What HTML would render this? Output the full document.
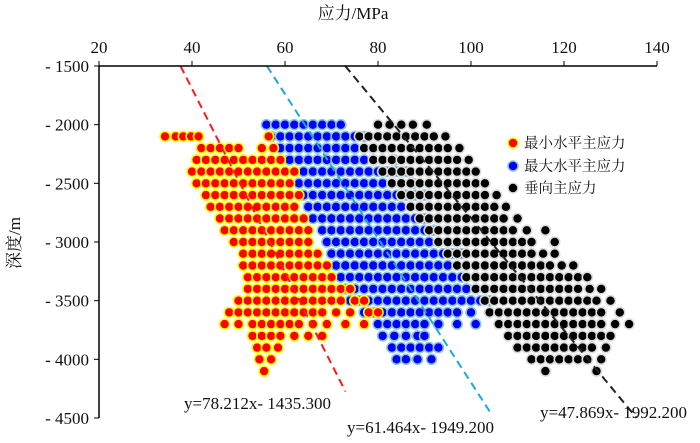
<!DOCTYPE html>
<html><head><meta charset="utf-8"><style>
html,body{margin:0;padding:0;background:#fff;}
svg text{font-family:"Liberation Serif","Noto Serif CJK SC","Noto Sans CJK SC",serif;fill:#111;}
</style></head><body>
<svg id="chart" width="700" height="438" viewBox="0 0 700 438" xmlns="http://www.w3.org/2000/svg">
<g id="points"></g>
<g id="lines"></g>
<g id="axes"></g>
<text x="353" y="19" text-anchor="middle" font-size="17">应力/MPa</text>
<text transform="translate(20,243) rotate(-90)" text-anchor="middle" font-size="17">深度/m</text>
<g>
<g><circle cx="513" cy="143" r="5" fill="#f00" stroke="#ff0" stroke-width="1.5"/><text x="524" y="148" font-size="14.5">最小水平主应力</text></g>
<g><circle cx="513" cy="166" r="5" fill="#00f" stroke="#8cc8d6" stroke-width="1.5"/><text x="524" y="171" font-size="14.5">最大水平主应力</text></g>
<g><circle cx="513" cy="188" r="5" fill="#000" stroke="#ddd" stroke-width="1.5"/><text x="524" y="193" font-size="14.5">垂向主应力</text></g>
</g>
<text x="184" y="409" font-size="17">y=78.212x- 1435.300</text>
<text x="347" y="433" font-size="17">y=61.464x- 1949.200</text>
<text x="540" y="418" font-size="17">y=47.869x- 1992.200</text>
</svg>
<script>
const xTicks = [20,40,60,80,100,120,140];
const yTicks = [-1500,-2000,-2500,-3000,-3500,-4000,-4500];
const redDepth = [-2100,-2200,-2300,-2400,-2500,-2600,-2700,-2800,-2900,-3000,-3100,-3200,-3300,-3400,-3500,-3600,-3700,-3800,-3900,-4000,-4100];
const redX = [
[34.2,36.5,38.1,39.8,41.4,56.5],
[42,44,46,48,50,55,57.5],
[41,43,45,47,49,51,53,55,57,59],
[40,42,44,46,48,50,52,54,56,58,60,62],
[41,43,45,47,49,51,53,55,57,59,61],
[43,45,47,49,51,53,55,57,59,61,63],
[44,46,48,50,52,54,56,58,60,62],
[46,48,50,52,54,56,58,60,62,64],
[47,49,51,53,55,57,59,61,63,65],
[49,51,53,55,57,59,61,63,65],
[51,53,55,57,59,61,63,65,67],
[51,53,55,57,59,61,63,65,67,69],
[52,54,56,58,60,62,64,66,68,70],
[52,54,56,58,60,62,64,66,68,70,72,74],
[50,52,54,56,58,60,62,64,66,68,70,72,75,77],
[48,50,52,54,56,58,60,62,64,66,68,71,74,78,80],
[47,50,53,55,57,59,61,63,66,69,73,77],
[53,55,57,59,62,65,68],
[54,56,58.5],
[54.5,57],
[55.5]];
const blueDepth = [-2000,-2100,-2200,-2300,-2400,-2500,-2600,-2700,-2800,-2900,-3000,-3100,-3200,-3300,-3400,-3500,-3600,-3700,-3800,-3900,-4000];
const blueX = [
[56,58,60,62,64,66,68,70,72],
[57,59,61,63,65,67,69,71,73,75,77],
[59,61,63,65,67,69,71,73,75,77,79,81],
[61,63,65,67,69,71,73,75,77,79,81,83.5],
[62,64,66,68,70,72,74,76,78,80,82,84,86],
[63,65,67,69,71,73,75,77,79,81,83,85,87.5],
[64,66,68,70,72,74,76,78,80,82,84,86,88,90],
[65,67,69,71,73,75,77,79,81,83,85,87,89,91],
[66,68,70,72,74,76,78,80,82,84,86,88,90,93],
[68,70,72,74,76,78,80,82,84,86,88,90,92,95],
[69,71,73,75,77,79,81,83,85,87,89,91,93,95,97],
[70,72,74,76,78,80,82,84,86,88,90,92,94,96,98],
[71,73,75,77,79,81,83,85,87,89,91,93,95,97,99],
[72,74,76,78,80,82,84,86,88,90,92,94,96,98,101],
[73,75,77,79,81,83,85,87,89,91,93,95,97,99,101,103],
[74,76,78,80,82,84,86,88,90,92,94,96,98,100,102,104],
[77,79,81,83,85,87,89,91,93,95,97,100,104],
[80,82,84,86,88,90,93,97,101],
[81,83.5,86,88.5,90],
[83,85,87,89,91,93],
[84,86,88.5,91.5]];
const blackDepth = [-2000,-2100,-2200,-2300,-2400,-2500,-2600,-2700,-2800,-2900,-3000,-3100,-3200,-3300,-3400,-3500,-3600,-3700,-3800,-3900,-4000,-4100];
const blackX = [
[80,82.5,85,87.5,90.5],
[76,78,80,82,84,86,88,90,92,94.5],
[77,79,81,83,85,87,89,91,93,95,97.5],
[79,81,83,85,87,89,91,93,95,97,99.5],
[81,83,85,87,89,91,93,95,97,99,101],
[83,85,87,89,91,93,95,97,99,101,103],
[85,87,89,91,93,95,97,99,101,103,105.5],
[87,89,91,93,95,97,99,101,103,105,107.5],
[89,91,93,95,97,99,101,103,105,107,110],
[91,93,95,97,99,101,103,105,107,109,112,116],
[93,95,97,99,101,103,105,107,109,111,113,118],
[95,97,99,101,103,105,107,109,111,113,115.5,118],
[97,99,101,103,105,107,109,111,113,115,117,119.5,122],
[99,101,103,105,107,109,111,113,115,117,119,121,123,125],
[101,103,105,107,109,111,113,115,117,119,121,123,125.5,128],
[103,105,107,109,111,113,115,117,119,121,123,125,127,130],
[104,106,108,110,112,114,116,118,120,122,124,126,128,132],
[106,108,110,112,114,116,118,120,122,124,126,128,131,134],
[108,110,112,114,116,118,120,122,124,126,128,130],
[110,112,114,116,118,120,122,124,126,129],
[113,115,117,119,121,123,125,128],
[116,127]];
const lineSlopes = [78.212, 61.464, 47.869];
const lineIntercepts = [-1435.3, -1949.2, -1992.2];
const lineEndX = [73, 104.5, 135.6];
const lineColors = ['#ff1a1a','#1ea8d8','#222'];

const X0=99, X1=657, Y0=66, Y1=418;
function sx(v){return X0+(v-20)/120*(X1-X0);}
function sy(d){return Y0+(-1500-d)/3000*(Y1-Y0);}
const NS='http://www.w3.org/2000/svg';
function mk(tag,attrs,parent){const e=document.createElementNS(NS,tag);for(const k in attrs)e.setAttribute(k,attrs[k]);parent.appendChild(e);return e;}

const pts=document.getElementById('points');
function series(depths,xs,fill,stroke,name){
  const g=mk('g',{},pts);
  
  
  depths.forEach((d,i)=>xs[i].forEach(v=>{
    const c=mk('circle',{cx:sx(v).toFixed(1),cy:sy(d).toFixed(1),r:5,fill:fill,stroke:stroke,'stroke-width':1.6},g);
    
    
  }));
}
series(blueDepth,blueX,'#0000ff','#8cc8d6','max-horizontal');
series(redDepth,redX,'#ff0000','#ffff00','min-horizontal');
series(blackDepth,blackX,'#000','#dcdcdc','vertical');

const lg=document.getElementById('lines');
lineSlopes.forEach((a,i)=>{
  const b=lineIntercepts[i];
  const xs=(1500-b)/a, xe=lineEndX[i];
  const l=mk('line',{x1:sx(xs),y1:sy(-(a*xs+b)),x2:sx(xe),y2:sy(-(a*xe+b)),stroke:lineColors[i],'stroke-width':2,'stroke-dasharray':'8,5'},lg);
  
  
});

const ax=document.getElementById('axes');
mk('line',{x1:X0,y1:Y0,x2:X1,y2:Y0,stroke:'#000','stroke-width':1.5},ax);
mk('line',{x1:X0,y1:Y0,x2:X0,y2:Y1,stroke:'#000','stroke-width':1.5},ax);
xTicks.forEach(v=>{
  mk('line',{x1:sx(v),y1:Y0,x2:sx(v),y2:Y0-5,stroke:'#000','stroke-width':1},ax);
  const t=mk('text',{x:sx(v),y:53,'text-anchor':'middle','font-size':17},ax);
  t.textContent=v;
  
  
});
yTicks.forEach(v=>{
  mk('line',{x1:X0-5,y1:sy(v),x2:X0,y2:sy(v),stroke:'#000','stroke-width':1},ax);
  const t=mk('text',{x:89,y:sy(v)+6,'text-anchor':'end','font-size':17},ax);
  t.textContent='- '+Math.abs(v);
  
  
});
</script>
</body></html>
